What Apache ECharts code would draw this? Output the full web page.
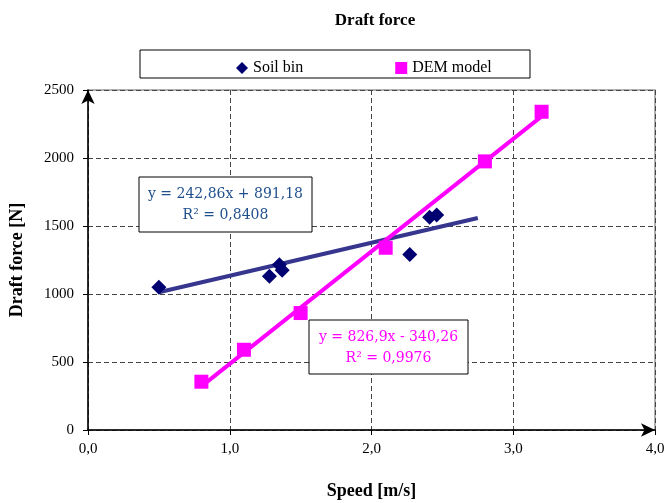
<!DOCTYPE html>
<html>
<head>
<meta charset="utf-8">
<script src="https://cdn.jsdelivr.net/npm/echarts@6/dist/echarts.min.js"></script>
<style>
  html, body { margin: 0; padding: 0; background: #fff; }
  #chart { width: 669px; height: 503px; }
</style>
</head>
<body>
<div id="chart"></div>
<script>
// measured points
const soilSpeed = [0.5, 1.28, 1.35, 1.37, 2.27, 2.41, 2.46];
const soilForce = [1050, 1130, 1215, 1175, 1290, 1565, 1580];
const demSpeed = [0.8, 1.1, 1.5, 2.1, 2.8, 3.2];
const demForce = [355, 590, 860, 1340, 1975, 2340];

// trendlines (from the fitted equations in the chart)
const soilFit = { a: 242.86, b: 891.18, from: 0.5, to: 2.75 };
const demFit = { a: 826.9, b: -340.26, from: 0.8, to: 3.2 };

const serif = '"Liberation Serif", "Times New Roman", serif';
const fitLine = f => [[f.from, f.a * f.from + f.b], [f.to, f.a * f.to + f.b]];

// boxed equation label
const eqBox = (x, y, w, h, lines, color) => [
  { type: 'rect', z: 100, shape: { x: x, y: y, width: w, height: h },
    style: { fill: '#fff', stroke: '#000', lineWidth: 1 } },
  { type: 'text', z: 101, style: { x: x + w / 2, y: y + 7, text: lines.join('\n'),
    fill: color, font: '14px "DejaVu Serif", serif', align: 'center', lineHeight: 21 } }
];

const chart = echarts.init(document.getElementById('chart'));
chart.setOption({
  animation: false,
  title: {
    text: 'Draft force',
    left: 370, top: 7, textAlign: 'center',
    textStyle: { fontFamily: serif, fontSize: 17, fontWeight: 'bold', color: '#000' }
  },
  legend: {
    data: [
      { name: 'Soil bin', icon: 'diamond' },
      { name: 'DEM model', icon: 'rect' }
    ],
    left: 231, top: 55, itemGap: 92, itemWidth: 12, itemHeight: 12,
    textStyle: { fontFamily: serif, fontSize: 16, color: '#000' }
  },
  graphic: [
    { type: 'rect', shape: { x: 140, y: 50, width: 390, height: 28 },
      style: { fill: 'none', stroke: '#000', lineWidth: 1 }, z: -1 },
    ...eqBox(139, 177, 173, 55, ['y = 242,86x + 891,18', 'R² = 0,8408'], '#1f4e8c'),
    ...eqBox(309, 320, 159, 54, ['y = 826,9x - 340,26', 'R² = 0,9976'], '#ff00ff')
  ],
  grid: {
    left: 88, right: 14, top: 90, bottom: 73, outerBoundsMode: 'none',
    show: true, borderColor: '#999', borderWidth: 1.5
  },
  xAxis: {
    type: 'value', min: 0, max: 4, interval: 1,
    name: 'Speed [m/s]', nameLocation: 'middle', nameGap: 52,
    nameTextStyle: { fontFamily: serif, fontSize: 18, fontWeight: 'bold', color: '#000' },
    axisLine: { lineStyle: { color: '#000', width: 1.5 }, symbol: ['none', 'arrow'], symbolSize: [10, 14] },
    axisTick: { show: true, length: 5, lineStyle: { color: '#000' } },
    axisLabel: { fontFamily: serif, fontSize: 15, color: '#000', margin: 12,
      formatter: v => v.toFixed(1).replace('.', ',') },
    splitLine: { show: true, lineStyle: { color: '#444', type: [5, 3], width: 1 } }
  },
  yAxis: {
    type: 'value', min: 0, max: 2500, interval: 500,
    name: 'Draft force [N]', nameLocation: 'middle', nameGap: 62,
    nameTextStyle: { fontFamily: serif, fontSize: 18, fontWeight: 'bold', color: '#000' },
    axisLine: { show: true, lineStyle: { color: '#000', width: 1.5 }, symbol: ['none', 'arrow'], symbolSize: [10, 14] },
    axisTick: { show: true, length: 5, lineStyle: { color: '#000' } },
    axisLabel: { fontFamily: serif, fontSize: 15, color: '#000', margin: 14,
      formatter: v => String(v) },
    splitLine: { show: true, lineStyle: { color: '#444', type: [5, 3], width: 1 } }
  },
  series: [
    { name: 'Soil bin trend', type: 'line', data: fitLine(soilFit), showSymbol: false,
      lineStyle: { color: '#36368f', width: 4 }, z: 2 },
    { name: 'DEM model trend', type: 'line', data: fitLine(demFit), showSymbol: false,
      lineStyle: { color: '#ff00ff', width: 4 }, z: 2 },
    { name: 'Soil bin', type: 'scatter', symbol: 'diamond', symbolSize: 15,
      data: soilSpeed.map((x, i) => [x, soilForce[i]]),
      itemStyle: { color: '#000070', opacity: 1 }, z: 3 },
    { name: 'DEM model', type: 'scatter', symbol: 'rect', symbolSize: 14,
      data: demSpeed.map((x, i) => [x, demForce[i]]),
      itemStyle: { color: '#ff00ff', opacity: 1 }, z: 3 }
  ]
});
</script>
</body>
</html>
